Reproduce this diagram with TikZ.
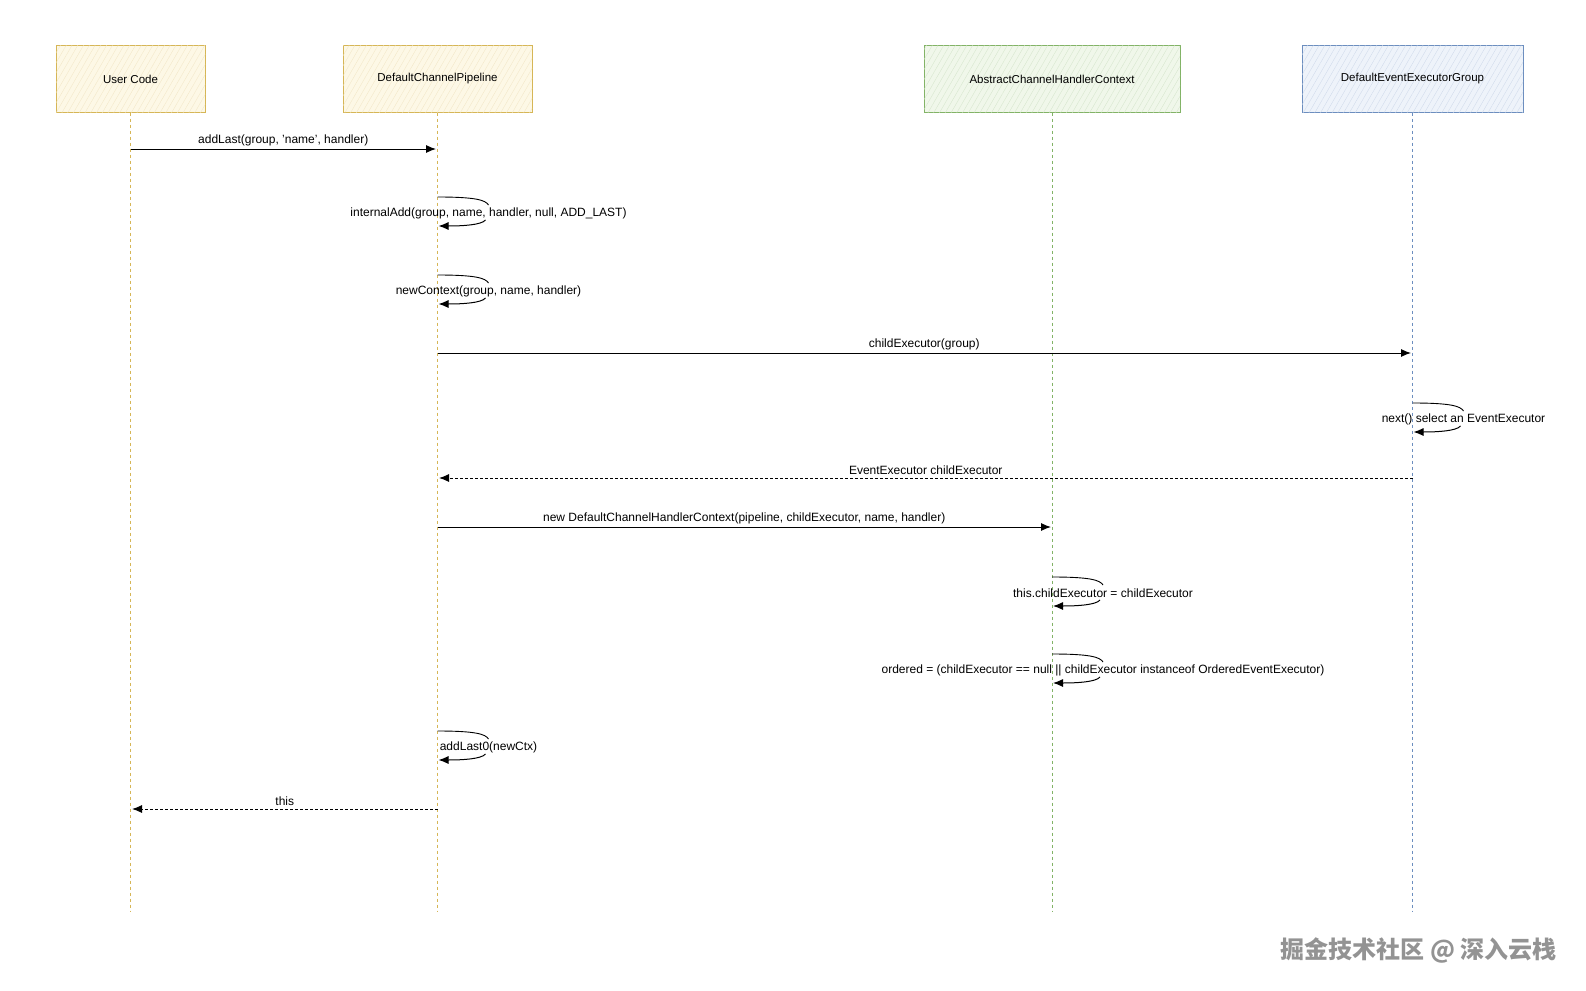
\documentclass[tikz,border=0pt]{standalone}
\usepackage{fontspec}
\setmainfont{Liberation Sans}
\newfontfamily\cjkfont{Noto Sans CJK SC}
\usetikzlibrary{arrows.meta,patterns.meta}
\definecolor{ybord}{HTML}{D6B656}
\definecolor{yfill}{HTML}{FDF8E6}
\definecolor{gbord}{HTML}{82B366}
\definecolor{gfill}{HTML}{F0F7EA}
\definecolor{bbord}{HTML}{6C8EBF}
\definecolor{bfill}{HTML}{EEF3FA}
\newcommand\selfmsg[4]{%
  \coordinate (#3s) at (#1,#2);
  \coordinate (#3m) at (#1+51,#2+8);
  \coordinate (#3n) at (#1+48,#2+23);
  \coordinate (#3e) at (#1+1,#2+29);
  \node[lbl] (#3l) at (#1+51,#2+16) {#4};
  \draw[line width=0.9pt] (#3s) .. controls (#1+38,#2) and (#1+48,#2+3) .. (#3m);
  \draw[msg] (#3n) .. controls (#1+44,#2+28) and (#1+25,#2+29) .. (#3e);
}
\begin{document}
\begin{tikzpicture}[x=1pt,y=-1pt,
  actor/.style={draw, line width=1pt, minimum height=66pt, inner sep=0pt,
    font=\fontsize{11.5}{13}\selectfont},
  life/.style={dash pattern=on 3pt off 3pt, line width=0.8pt},
  msg/.style={line width=1pt, -{Latex[length=10pt,width=8pt]}},
  ret/.style={msg, dash pattern=on 3pt off 2pt},
  lbl/.style={font=\fontsize{12}{13}\selectfont, inner sep=1pt},
]
\useasboundingbox (0,0) rectangle (1586,990);
% actors
\node[actor, fill=yfill, draw=ybord, minimum width=149pt,
  postaction={pattern={Lines[angle=60,distance=5pt,line width=0.3pt]}, pattern color=ybord!35}] (uc) at (130.5,79) {User Code};
\node[actor, fill=yfill, draw=ybord, minimum width=189pt,
  postaction={pattern={Lines[angle=60,distance=5pt,line width=0.3pt]}, pattern color=ybord!35}] (pp) at (437.5,79) {DefaultChannelPipeline};
\node[actor, fill=gfill, draw=gbord, minimum width=256pt,
  postaction={pattern={Lines[angle=60,distance=5pt,line width=0.3pt]}, pattern color=gbord!35}] (ac) at (1052,79) {AbstractChannelHandlerContext};
\node[actor, fill=bfill, draw=bbord, minimum width=221pt,
  postaction={pattern={Lines[angle=60,distance=5pt,line width=0.3pt]}, pattern color=bbord!35}] (eg) at (1412.5,79) {DefaultEventExecutorGroup};
% lifelines
\coordinate (ucend) at (130.5,912);
\coordinate (ppend) at (437.5,912);
\coordinate (acend) at (1052,912);
\coordinate (egend) at (1412.5,912);
\draw[life, ybord] (uc.south) -- (ucend);
\draw[life, ybord] (pp.south) -- (ppend);
\draw[life, gbord] (ac.south) -- (acend);
\draw[life, bbord] (eg.south) -- (egend);
% messages
\coordinate (m1a) at (130.5,149);
\coordinate (m1b) at (436,149);
\draw[msg] (m1a) -- node[lbl, above=2pt] {addLast(group, 'name', handler)} (m1b);

\selfmsg{437.5}{197}{s1}{internalAdd(group, name, handler, null, ADD\_LAST)}
\selfmsg{437.5}{275}{s2}{newContext(group, name, handler)}

\coordinate (m2a) at (437.5,353);
\coordinate (m2b) at (1411,353);
\draw[msg] (m2a) -- node[lbl, above=2pt] {childExecutor(group)} (m2b);

\selfmsg{1412.5}{403}{s3}{next() select an EventExecutor}

\coordinate (m3a) at (1412.5,478);
\coordinate (m3b) at (439,478);
\draw[ret] (m3a) -- node[lbl, above=2pt] {EventExecutor childExecutor} (m3b);

\coordinate (m4a) at (437.5,527);
\coordinate (m4b) at (1051,527);
\draw[msg] (m4a) -- node[lbl, above=2pt] {new DefaultChannelHandlerContext(pipeline, childExecutor, name, handler)} (m4b);

\selfmsg{1052}{577}{s4}{this.childExecutor = childExecutor}
\selfmsg{1052}{654}{s5}{ordered = (childExecutor == null || childExecutor instanceof OrderedEventExecutor)}
\selfmsg{437.5}{731}{s6}{addLast0(newCtx)}

\coordinate (m5a) at (437.5,809);
\coordinate (m5b) at (132,809);
\draw[ret] (m5a) -- node[lbl, above=2pt] {this} (m5b);

% watermark
\node[font=\cjkfont\bfseries\fontsize{24}{26}\selectfont, text=gray!85, anchor=east] (wm) at (1560,950) {掘金技术社区 @ 深入云栈};
\end{tikzpicture}
\end{document}
